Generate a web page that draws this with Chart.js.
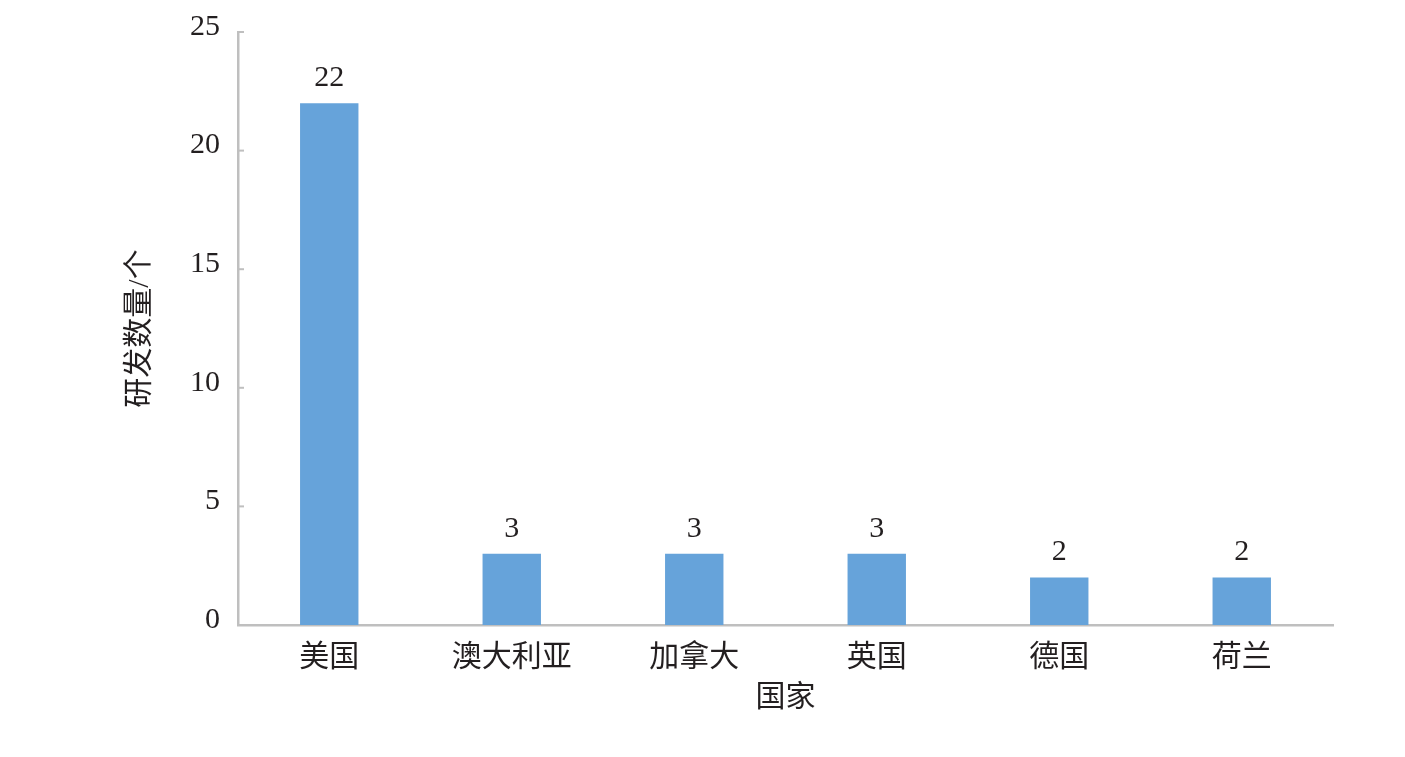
<!DOCTYPE html>
<html>
<head>
<meta charset="utf-8">
<script src="https://cdn.jsdelivr.net/npm/chart.js@4"></script>
<style>
  html, body { margin: 0; padding: 0; background: #fff; }
  #wrap { width: 1405px; height: 757px; }
</style>
</head>
<body>
<div id="wrap"><canvas id="barChart" width="1405" height="757"></canvas></div>
<script>
// Chart data
const countries = ['美国', '澳大利亚', '加拿大', '英国', '德国', '荷兰'];
const projectCounts = [22, 3, 3, 3, 2, 2];
const yTicks = [0, 5, 10, 15, 20, 25];

const fontFamily = '"Liberation Serif", "Noto Sans CJK SC", serif';
const textColor = '#231f20';
const axisColor = '#bfbfbf';

// value labels above each bar
const barLabels = {
  id: 'barLabels',
  afterDatasetsDraw(chart) {
    const ctx = chart.ctx;
    const meta = chart.getDatasetMeta(0);
    ctx.save();
    ctx.font = '30px ' + fontFamily;
    ctx.fillStyle = textColor;
    ctx.textAlign = 'center';
    ctx.textBaseline = 'bottom';
    meta.data.forEach((bar, i) => {
      ctx.fillText(String(projectCounts[i]), bar.x, bar.y - 10);
    });
    ctx.restore();
  }
};

// small inward tick marks on the y axis
const innerTicks = {
  id: 'innerTicks',
  afterDraw(chart) {
    const ctx = chart.ctx;
    const y = chart.scales.y;
    const x0 = chart.chartArea.left;
    ctx.save();
    ctx.strokeStyle = axisColor;
    ctx.lineWidth = 2;
    yTicks.forEach(v => {
      const py = y.getPixelForValue(v);
      ctx.beginPath();
      ctx.moveTo(x0, py);
      ctx.lineTo(x0 + 6, py);
      ctx.stroke();
    });
    ctx.restore();
  }
};

new Chart(document.getElementById('barChart'), {
  type: 'bar',
  data: {
    labels: countries,
    datasets: [{
      data: projectCounts,
      backgroundColor: '#66a3da',
      borderWidth: 0,
      barPercentage: 0.32,
      categoryPercentage: 1
    }]
  },
  options: {
    responsive: false,
    animation: false,
    devicePixelRatio: 1,
    layout: { padding: { left: 118, right: 72, top: 32, bottom: 40 } },
    plugins: {
      legend: { display: false },
      tooltip: { enabled: false }
    },
    scales: {
      x: {
        afterFit: s => { s.height = 92; s.paddingLeft = 0; s.paddingRight = 0; },
        grid: { display: false, drawTicks: false },
        border: { display: true, color: axisColor, width: 2.5 },
        ticks: { color: textColor, font: { family: fontFamily, size: 30 }, padding: 15 },
        title: { display: true, text: '国家', color: textColor, font: { family: fontFamily, size: 30 }, padding: { top: 0, bottom: 1 } }
      },
      y: {
        min: 0,
        max: 25,
        afterFit: s => { s.width = 238 - 118; s.paddingTop = 0; s.paddingBottom = 0; },
        afterBuildTicks: s => { s.ticks = yTicks.map(v => ({ value: v })); },
        grid: { display: false, drawTicks: false },
        border: { display: true, color: axisColor, width: 2.5 },
        ticks: { color: textColor, font: { family: fontFamily, size: 30 }, padding: 18, labelOffset: -5 },
        title: { display: true, text: '研发数量/个', color: textColor, font: { family: fontFamily, size: 30 }, padding: { top: 4, bottom: 0 } }
      }
    }
  },
  plugins: [barLabels, innerTicks]
});
</script>
</body>
</html>
